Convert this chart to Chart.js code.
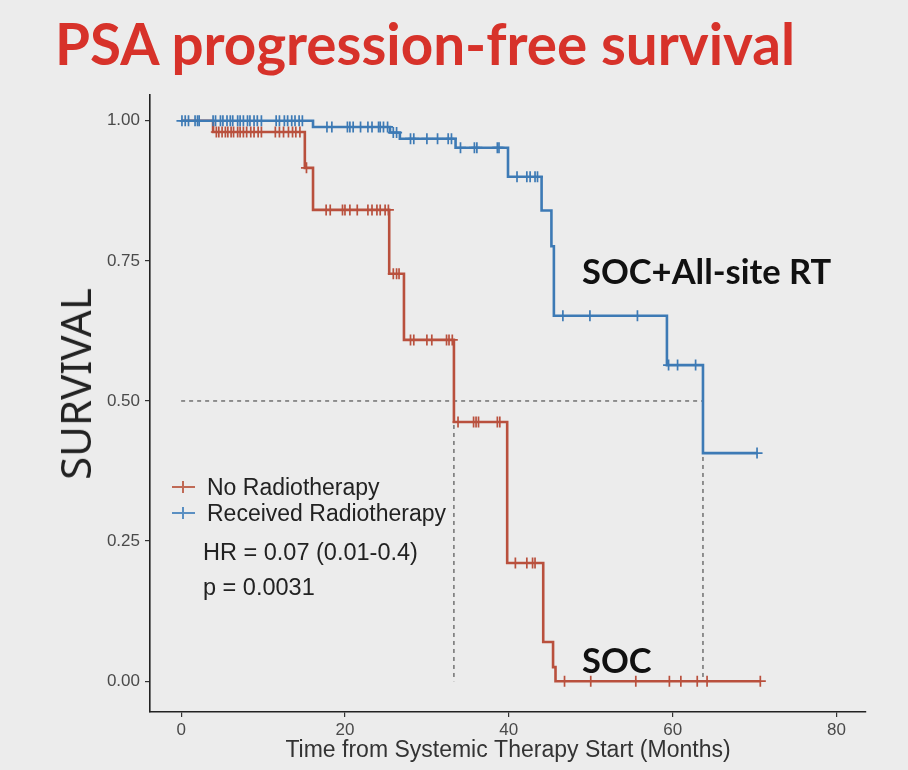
<!DOCTYPE html>
<html>
<head>
<meta charset="utf-8">
<script src="https://cdn.jsdelivr.net/npm/chart.js@4"></script>
<style>
  body { margin: 0; background: #ececec; }
  #wrap { position: relative; width: 908px; height: 770px; background: #ececec; overflow: hidden; }
  #grafica { position: absolute; left: 0; top: 0; }
  .txt { position: absolute; white-space: nowrap; }
  .titulo { left: 55px; top: 15px; font: bold 56.6px Lato, sans-serif; color: #d7322a; line-height: 1; }
  .nota { font: bold 34.5px Lato, sans-serif; color: #111; line-height: 1; }
  .ejey { left: 75px; top: 384px; transform: translate(-50%, -50%) rotate(-90deg); font: 42px "Noto Sans", sans-serif; color: #222; line-height: 1; }
  .leyenda { left: 172px; font: 23px "Liberation Sans", Arial, sans-serif; color: #222; line-height: 26px; }
  .marca { display: inline-block; position: relative; width: 23px; height: 26px; vertical-align: top; margin-right: 12px; }
  .marca .h { position: absolute; left: 0; top: 12px; width: 23px; height: 2px; }
  .marca .v { position: absolute; left: 10px; top: 7px; width: 2px; height: 12px; }
  .stats { left: 203px; font: 23.5px "Liberation Sans", Arial, sans-serif; color: #222; line-height: 30px; }
</style>
</head>
<body>
<div id="wrap">
  <canvas id="grafica" width="908" height="770"></canvas>
  <div class="txt titulo">PSA progression-free survival</div>
  <div class="txt ejey">SURVIVAL</div>
  <div class="txt nota" style="left:582px; top:254px;">SOC+All-site RT</div>
  <div class="txt nota" style="left:582px; top:643px;">SOC</div>
  <div class="txt leyenda" style="top:474px;"><span class="marca"><span class="h" style="background:#c06a56"></span><span class="v" style="background:#c06a56"></span></span>No Radiotherapy</div>
  <div class="txt leyenda" style="top:500px;"><span class="marca"><span class="h" style="background:#5a8fc2"></span><span class="v" style="background:#5a8fc2"></span></span>Received Radiotherapy</div>
  <div class="txt stats" style="top:537px;">HR = 0.07 (0.01-0.4)</div>
  <div class="txt stats" style="top:572px;">p = 0.0031</div>
</div>
<script>
// Kaplan-Meier curves (months, survival)
var noRtTime = [0, 3.9, 15.1, 16.1, 25.4, 27.2, 33.3, 39.8, 44.2, 45.4, 45.7, 70.7];
var noRtSurv = [1.0, 0.98, 0.916, 0.841, 0.727, 0.609, 0.4625, 0.211, 0.07, 0.025, 0, 0];
var noRtCensor = [4.3, 4.6, 5.0, 5.4, 5.7, 6.1, 6.4, 6.9, 7.2, 7.6, 8.0, 8.5, 8.9, 9.4, 9.8,
  11.5, 12.0, 12.5, 13.1, 13.6, 14.0, 14.5, 15.3,
  17.7, 18.2, 19.7, 20.0, 20.6, 21.5, 22.8, 23.3, 23.9, 24.3, 24.9, 25.3,
  25.9, 26.3, 26.6,
  28.0, 28.4, 30.0, 30.6, 32.4, 32.7, 33.1,
  33.8, 35.7, 36.0, 36.3, 38.6, 38.9,
  40.8, 42.2, 42.9, 43.2,
  46.8, 50.0, 55.5, 59.6, 61.0, 63.0, 64.2, 70.7];

var rtTime = [0, 16.1, 25.5, 26.7, 33.5, 39.9, 44.0, 45.2, 45.5, 59.3, 63.7, 70.3];
var rtSurv = [1.0, 0.989, 0.979, 0.968, 0.952, 0.90, 0.84, 0.776, 0.652, 0.564, 0.407, 0.407];
var rtCensor = [0.1, 0.5, 0.9, 1.7, 2.0, 2.2,
  3.9, 4.2, 4.8, 5.1, 5.6, 6.0, 6.3, 6.9, 7.2, 7.6, 8.1, 8.4, 8.9, 9.3, 9.8,
  11.6, 12.0, 12.6, 13.0, 13.5, 13.9, 14.4, 14.8,
  17.8, 18.4, 20.3, 20.6, 21.0, 21.9, 22.8, 23.3, 24.1, 24.3, 24.7, 25.2,
  25.9, 26.3,
  28.0, 28.4, 30.0, 31.3, 32.6, 33.0,
  34.1, 35.8, 36.1, 38.6, 38.8,
  41.0, 42.2, 42.6, 43.2, 43.5,
  46.6, 49.9, 55.7,
  59.5, 60.6, 62.8,
  70.3];

var medianTimes = [33.3, 63.7];
var xTicks = [0, 20, 40, 60, 80];
var yTicks = [0, 0.25, 0.5, 0.75, 1];

var rojo = '#b9503d';
var azul = '#3d7ab5';

function curva(t, s) {
  return t.map(function(x, i) { return { x: x, y: s[i] }; });
}

// the censored point sits on the curve at that time
function survEn(t, s, x) {
  var v = s[0];
  for (var i = 0; i < t.length; i++) {
    if (t[i] <= x) v = s[i];
  }
  return v;
}

function censuras(t, s, c) {
  return c.map(function(x) { return { x: x, y: survEn(t, s, x) }; });
}

var lineaMediana = { borderColor: '#333', borderWidth: 1, borderDash: [4, 4], pointRadius: 0, showLine: true, order: 3 };

var datasets = [
  { label: 'Received Radiotherapy', data: curva(rtTime, rtSurv), showLine: true, stepped: 'before',
    borderColor: azul, borderWidth: 2.6, pointRadius: 0, order: 0 },
  { label: 'rt censor', data: censuras(rtTime, rtSurv, rtCensor), pointStyle: 'cross',
    pointRadius: 5.5, pointBorderWidth: 1.7, borderColor: azul, backgroundColor: azul, order: 0 },
  { label: 'No Radiotherapy', data: curva(noRtTime, noRtSurv), showLine: true, stepped: 'before',
    borderColor: rojo, borderWidth: 2.6, pointRadius: 0, order: 1 },
  { label: 'no rt censor', data: censuras(noRtTime, noRtSurv, noRtCensor), pointStyle: 'cross',
    pointRadius: 5.5, pointBorderWidth: 1.7, borderColor: rojo, backgroundColor: rojo, order: 1 },
  Object.assign({ data: [{ x: 0, y: 0.5 }, { x: medianTimes[1], y: 0.5 }] }, lineaMediana),
  Object.assign({ data: [{ x: medianTimes[0], y: 0.5 }, { x: medianTimes[0], y: 0 }] }, lineaMediana),
  Object.assign({ data: [{ x: medianTimes[1], y: 0.5 }, { x: medianTimes[1], y: 0 }] }, lineaMediana)
];

var canvas = document.getElementById('grafica');

new Chart(canvas, {
  type: 'scatter',
  data: { datasets: datasets },
  options: {
    responsive: false,
    animation: false,
    layout: { padding: { left: 0, top: 95, right: 42, bottom: 0 } },
    plugins: {
      legend: { display: false },
      tooltip: { enabled: false }
    },
    scales: {
      x: {
        type: 'linear',
        min: -3.8,
        max: 83.6,
        afterFit: function(scale) { scale.height = 58; },
        afterBuildTicks: function(scale) {
          scale.ticks = xTicks.map(function(v) { return { value: v }; });
        },
        grid: { drawOnChartArea: false, drawTicks: true, tickLength: 5, color: '#333', lineWidth: 1.2 },
        border: { display: true, color: '#222', width: 1.6 },
        ticks: { padding: 3, color: '#4a4a4a', font: { family: 'Liberation Sans', size: 17 }, maxRotation: 0 },
        title: {
          display: true,
          text: 'Time from Systemic Therapy Start (Months)',
          color: '#333',
          font: { family: 'Liberation Sans', size: 23 },
          padding: { top: 0, bottom: 6 }
        }
      },
      y: {
        type: 'linear',
        min: -0.055,
        max: 1.046,
        afterFit: function(scale) { scale.width = 150; },
        afterBuildTicks: function(scale) {
          scale.ticks = yTicks.map(function(v) { return { value: v }; });
        },
        grid: { drawOnChartArea: false, drawTicks: true, tickLength: 5, color: '#333', lineWidth: 1.2 },
        border: { display: true, color: '#222', width: 1.6 },
        ticks: {
          padding: 5,
          color: '#4a4a4a',
          font: { family: 'Liberation Sans', size: 17 },
          callback: function(v) { return v.toFixed(2); }
        }
      }
    }
  }
});
</script>
</body>
</html>
